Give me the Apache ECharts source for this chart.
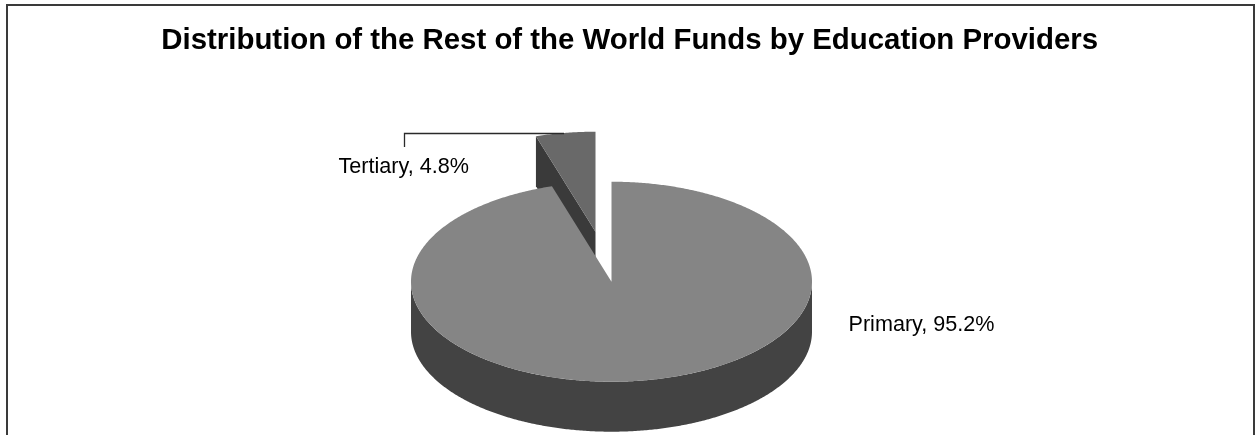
<!DOCTYPE html>
<html>
<head>
<meta charset="utf-8">
<title>Distribution of the Rest of the World Funds by Education Providers</title>
<style>
  html, body { margin: 0; padding: 0; background: #fff; }
  #chart { width: 1256px; height: 435px; }
</style>
<script src="https://cdn.jsdelivr.net/npm/echarts@6/dist/echarts.min.js"></script>
</head>
<body>
<div id="chart"></div>
<script>
// Share of funds per education provider, in percent
const providers = ['Primary', 'Tertiary'];
const shares = [95.2, 4.8];

// Tilted-disc layout
const discCenter = [611.5, 281.7];
const radiusX = 200.5;
const radiusY = 100;
const depth = 50;
const explodeOffsets = [[0, 0], [-16, -50]];
const topColors = ['#858585', '#696969'];
const sideColors = ['#434343', '#3a3a3a'];
const labelAnchors = [[848.5, 325.5], [338.5, 167]];
const leaderLines = [null, [[404.5, 147], [404.5, 133.5], [564, 133.5]]];

const fontFamily = '"Liberation Sans", Arial, sans-serif';

// Point on the tilted rim; degrees run clockwise from 12 o'clock
function rim(cx, cy, deg) {
  const a = deg * Math.PI / 180;
  return [cx + radiusX * Math.sin(a), cy - radiusY * Math.cos(a)];
}

function arc(cx, cy, from, to) {
  const pts = [];
  const steps = Math.max(2, Math.ceil(Math.abs(to - from) * 2));
  for (let i = 0; i <= steps; i++) {
    pts.push(rim(cx, cy, from + (to - from) * i / steps));
  }
  return pts;
}

function renderSlice(params, api) {
  const i = params.dataIndex;
  const value = api.value(1);
  const before = shares.slice(0, i).reduce((s, v) => s + v, 0);
  const total = shares.reduce((s, v) => s + v, 0);
  const from = before / total * 360;
  const to = (before + value) / total * 360;
  const cx = discCenter[0] + explodeOffsets[i][0];
  const cy = discCenter[1] + explodeOffsets[i][1];
  // Slices further along sit behind the first one
  const base = (providers.length - i) * 10;
  const children = [];

  // Outer wall: only the part of the rim facing the viewer (90deg to 270deg)
  const wallFrom = Math.max(from, 90);
  const wallTo = Math.min(to, 270);
  if (wallTo > wallFrom) {
    const upper = arc(cx, cy, wallFrom, wallTo);
    const lower = arc(cx, cy + depth, wallTo, wallFrom);
    children.push({
      type: 'polygon', z2: base,
      shape: { points: upper.concat(lower) },
      style: { fill: sideColors[i] }
    });
  }

  // Cut wall, visible when the leading cut edge faces the viewer
  if (from > 270) {
    const outer = rim(cx, cy, from);
    children.push({
      type: 'polygon', z2: base,
      shape: { points: [outer, [cx, cy], [cx, cy + depth], [outer[0], outer[1] + depth]] },
      style: { fill: sideColors[i] }
    });
  }

  // Top face
  children.push({
    type: 'polygon', z2: base + 1,
    shape: { points: [[cx, cy]].concat(arc(cx, cy, from, to)) },
    style: { fill: topColors[i] }
  });

  if (leaderLines[i]) {
    children.push({
      type: 'polyline', z2: base + 2,
      shape: { points: leaderLines[i] },
      style: { fill: null, stroke: '#2a2a2a', lineWidth: 1.3 }
    });
  }

  children.push({
    type: 'text', z2: 50,
    x: labelAnchors[i][0], y: labelAnchors[i][1],
    style: {
      text: api.value(0) + ', ' + value.toFixed(1) + '%',
      fill: '#000', font: '21.6px ' + fontFamily,
      align: 'left', verticalAlign: 'middle'
    }
  });

  return { type: 'group', children };
}

const chart = echarts.init(document.getElementById('chart'), null, { renderer: 'canvas' });
chart.setOption({
  animation: false,
  backgroundColor: '#ffffff',
  title: {
    text: 'Distribution of the Rest of the World Funds by Education Providers',
    left: 629.7, top: 41, padding: 0, textAlign: 'center', textVerticalAlign: 'middle',
    textStyle: { fontFamily, fontSize: 29.4, fontWeight: 'bold', color: '#000' }
  },
  graphic: [{
    type: 'polyline', silent: true,
    shape: { points: [[7, 435], [7, 5], [1254, 5], [1254, 435]] },
    style: { fill: null, stroke: '#3a3a3a', lineWidth: 2 }
  }],
  series: [{
    type: 'custom',
    coordinateSystem: 'none',
    silent: true,
    renderItem: renderSlice,
    data: providers.map((p, i) => [p, shares[i]])
  }]
});
</script>
</body>
</html>
